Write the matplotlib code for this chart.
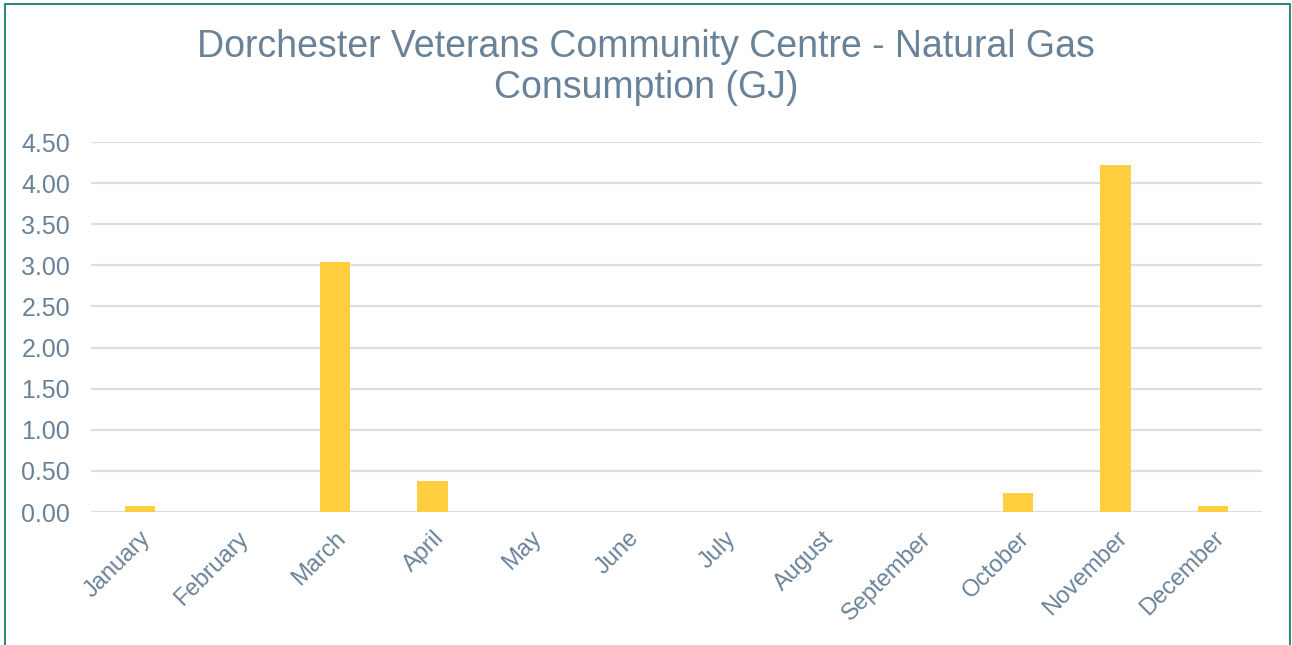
import matplotlib
matplotlib.use('Agg')
import matplotlib.pyplot as plt
import matplotlib.patches as patches

# data
months = ['January', 'February', 'March', 'April', 'May', 'June',
          'July', 'August', 'September', 'October', 'November', 'December']
gas_gj = [0.07, 0.0, 3.04, 0.38, 0.0, 0.0, 0.0, 0.0, 0.0, 0.23, 4.22, 0.07]
y_ticks = [0.0, 0.5, 1.0, 1.5, 2.0, 2.5, 3.0, 3.5, 4.0, 4.5]

text_col = '#6A8298'
grid_col = '#DADFE5'
bar_col = '#FFCF40'
frame_col = '#2E8B78'

plt.rcParams['font.family'] = ['Liberation Sans', 'DejaVu Sans']

fig = plt.figure(figsize=(12.92, 6.45), dpi=100, facecolor='white')
ax = fig.add_axes([91 / 1292, 1 - 512 / 645, (1262 - 91) / 1292, 370 / 645])

x = range(len(months))
ax.bar(x, gas_gj, width=0.31, color=bar_col, zorder=3)

ax.set_xlim(-0.5, len(months) - 0.5)
ax.set_ylim(0, 4.5)
ax.set_yticks(y_ticks)
ax.set_yticklabels([f'{v:.2f}' for v in y_ticks])
ax.set_xticks(list(x))
ax.set_xticklabels(months, rotation=45, ha='right', va='top', rotation_mode='anchor')

ax.grid(axis='y', color=grid_col, linewidth=1.6, zorder=0)
ax.tick_params(axis='y', length=0, labelsize=18, colors=text_col, pad=15)
ax.tick_params(axis='x', length=0, labelsize=17, colors=text_col, pad=11)
for s in ax.spines.values():
    s.set_visible(False)

fig.text(0.5, 1 - 47 / 645, 'Dorchester Veterans Community Centre - Natural Gas',
         ha='center', va='center', fontsize=27, color=text_col)
fig.text(0.5, 1 - 88 / 645, 'Consumption (GJ)',
         ha='center', va='center', fontsize=27, color=text_col)

# outer frame
frame = patches.Rectangle((5 / 1292, -0.05), 1285 / 1292, 1.05 - 4 / 645,
                          transform=fig.transFigure, fill=False,
                          edgecolor=frame_col, linewidth=1.5)
fig.patches.append(frame)

fig.savefig('out.png', dpi=100, facecolor='white')
